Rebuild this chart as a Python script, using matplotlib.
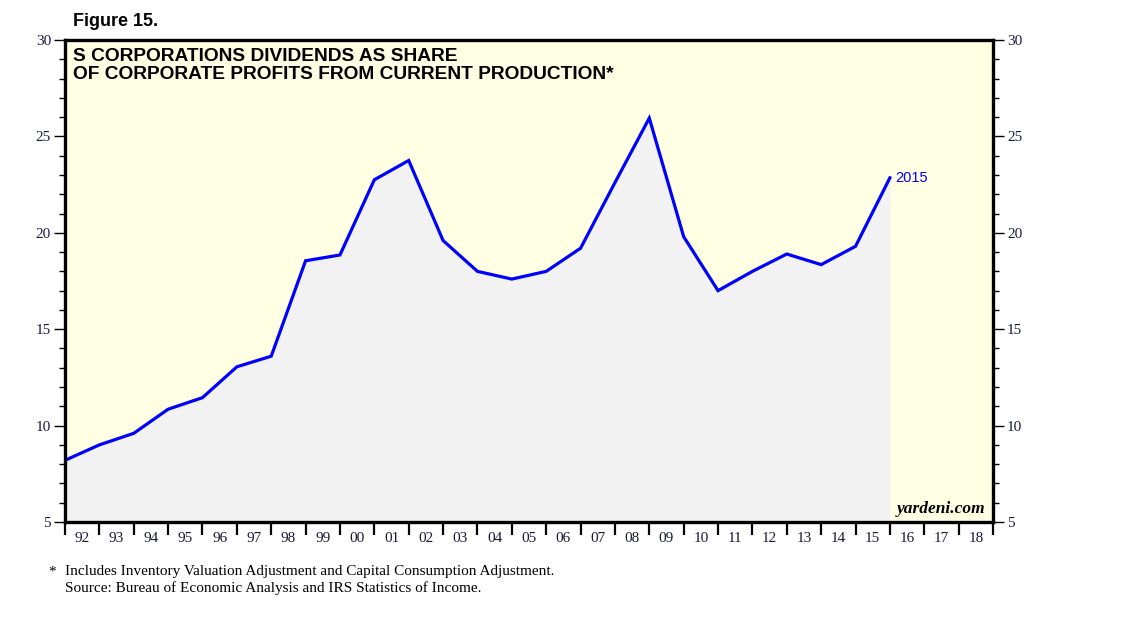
import matplotlib
matplotlib.use('Agg')
import matplotlib.pyplot as plt
import numpy as np
from matplotlib.ticker import FixedLocator, MultipleLocator, NullFormatter, FixedFormatter

# ---- data ----
years = list(range(1991, 2016))
share = [8.2, 9.0, 9.6, 10.85, 11.45, 13.05, 13.6, 18.55, 18.85, 22.75,
         23.75, 19.6, 18.0, 17.6, 18.0, 19.2, 22.6, 25.95, 19.8, 17.0,
         18.0, 18.9, 18.35, 19.3, 22.85]
axis_years = list(range(1992, 2019))
year_labels = [f"{y % 100:02d}" for y in axis_years]
last_label = "2015"

title_lines = "S CORPORATIONS DIVIDENDS AS SHARE\nOF CORPORATE PROFITS FROM CURRENT PRODUCTION*"
footnote1 = "Includes Inventory Valuation Adjustment and Capital Consumption Adjustment."
footnote2 = "Source: Bureau of Economic Analysis and IRS Statistics of Income."

W, H = 1138, 621
fig = plt.figure(figsize=(W / 100, H / 100), dpi=100)
fig.patch.set_facecolor('white')
ax = fig.add_axes([65 / W, 1 - 522 / H, (993 - 65) / W, (522 - 40) / H])

# data plotted at year end
x = np.array(years) + 1.0
ax.set_facecolor('#ffffe4')
ax.fill_between(x, share, 5, color='#f2f2f2', lw=0, zorder=1)
ax.plot(x, share, color='#0000ff', lw=2.3, zorder=3, solid_joinstyle='miter')
ax.text(x[-1] + 0.15, share[-1], last_label, color='#0000ff', fontsize=10.5,
        family='Liberation Sans', va='center', ha='left')

ax.set_xlim(1992, 2019)
ax.set_ylim(5, 30)

for sp in ax.spines.values():
    sp.set_linewidth(2.4)
    sp.set_color('black')
    sp.set_zorder(5)

# x ticks
ax.xaxis.set_major_locator(FixedLocator(list(range(1992, 2020))))
ax.xaxis.set_major_formatter(NullFormatter())
ax.xaxis.set_minor_locator(FixedLocator([y + 0.5 for y in axis_years]))
ax.xaxis.set_minor_formatter(FixedFormatter(year_labels))
ax.tick_params(axis='x', which='major', direction='out', length=9, width=1.6, color='black')
ax.tick_params(axis='x', which='minor', length=0, pad=7, labelsize=11, labelcolor='#1a1a33')

# y ticks
ax.yaxis.set_major_locator(MultipleLocator(5))
ax.yaxis.set_minor_locator(MultipleLocator(1))
ax.tick_params(axis='y', which='both', left=True, right=True, labelleft=True,
               labelright=True, direction='out', color='black')
ax.tick_params(axis='y', which='major', length=8, width=1.0, labelsize=11,
               labelcolor='#1a1a40', pad=2)
ax.tick_params(axis='y', which='minor', length=4.5, width=1.0)
for lab in ax.get_xticklabels(minor=True) + ax.get_yticklabels():
    lab.set_family('Liberation Serif')

# titles
fig.text(73 / W, 1 - 21 / H, "Figure 15.", fontsize=13, fontweight='bold',
         family='Liberation Sans', va='center', ha='left')
ax.text(0.009, 0.984, title_lines, transform=ax.transAxes, fontsize=13.8,
        fontweight='bold', family='Liberation Sans', va='top', ha='left',
        linespacing=1.12, zorder=6)
ax.text(0.992, 0.010, "yardeni.com", transform=ax.transAxes, fontsize=12.5,
        fontstyle='italic', fontweight='bold', family='Liberation Serif',
        va='bottom', ha='right', zorder=6)

# footnotes
fig.text(48 / W, 1 - 572 / H, "*", fontsize=11, family='Liberation Serif', va='center', ha='left')
fig.text(65 / W, 1 - 572 / H, footnote1, fontsize=11, family='Liberation Serif', va='center', ha='left')
fig.text(65 / W, 1 - 588 / H, footnote2, fontsize=11, family='Liberation Serif', va='center', ha='left')

fig.savefig('out.png', dpi=100)
